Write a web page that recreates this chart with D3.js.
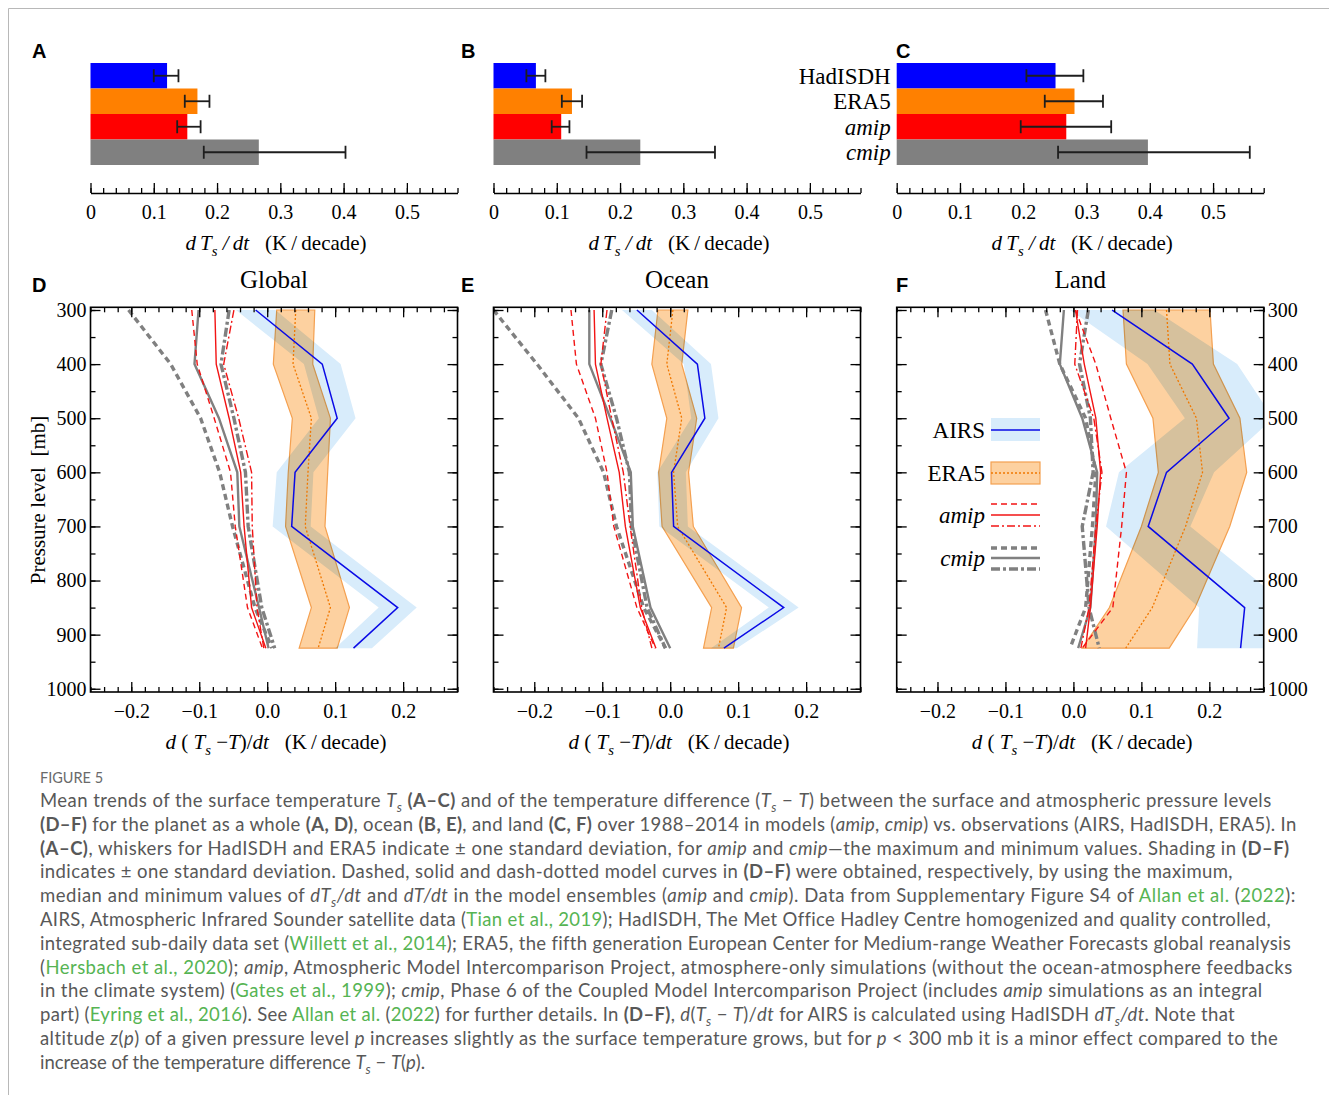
<!DOCTYPE html>
<html><head><meta charset="utf-8">
<script src="https://cdn.jsdelivr.net/npm/d3@7"></script>
<style>
body{margin:0;background:#fff;}
svg{display:block;}
text{white-space:pre;}
</style></head><body>
<svg id="chart" width="1329" height="1095"></svg>
<script>
// ---------------- DATA ----------------
const barCategories = ["HadISDH", "ERA5", "amip", "cmip"];
const barTicks = [0, 0.1, 0.2, 0.3, 0.4, 0.5];
const barGlobal   = [0.121, 0.169, 0.153, 0.266];
const barGlobalLo = [0.100, 0.149, 0.137, 0.179];
const barGlobalHi = [0.139, 0.188, 0.174, 0.403];
const barOcean    = [0.067, 0.124, 0.107, 0.232];
const barOceanLo  = [0.052, 0.108, 0.092, 0.147];
const barOceanHi  = [0.082, 0.140, 0.120, 0.350];
const barLand     = [0.251, 0.281, 0.268, 0.397];
const barLandLo   = [0.205, 0.234, 0.196, 0.255];
const barLandHi   = [0.295, 0.326, 0.339, 0.558];

const levels = [300, 400, 500, 600, 700, 850, 925];
const profTicksX = [-0.2, -0.1, 0.0, 0.1, 0.2];
const profTicksY = [300, 400, 500, 600, 700, 800, 900, 1000];
const panelTitles = ["Global", "Ocean", "Land"];

// Global (D)
const globalAirs    = [-0.017, 0.081, 0.103, 0.041, 0.036, 0.192, 0.127];
const globalAirsSd  = [0.029, 0.027, 0.027, 0.027, 0.028, 0.028, 0.027];
const globalEra5    = [0.042, 0.038, 0.065, 0.060, 0.056, 0.093, 0.075];
const globalEra5Sd  = [0.028, 0.029, 0.028, 0.029, 0.029, 0.028, 0.028];
const globalAmipMax = [-0.111, -0.103, -0.078, -0.054, -0.047, -0.029, -0.007];
const globalAmipMed = [-0.077, -0.075, -0.056, -0.039, -0.034, -0.023, -0.002];
const globalAmipMin = [-0.049, -0.064, -0.042, -0.023, -0.022, -0.015, -0.005];
const globalCmipMax = [-0.204, -0.142, -0.098, -0.070, -0.051, -0.018, 0.007];
const globalCmipMed = [-0.101, -0.107, -0.071, -0.044, -0.041, -0.012, 0.002];
const globalCmipMin = [-0.056, -0.068, -0.049, -0.032, -0.028, -0.008, 0.011];

// Ocean (E)
const oceanAirs    = [-0.049, 0.040, 0.051, 0.002, 0.005, 0.167, 0.079];
const oceanAirsSd  = [0.022, 0.020, 0.020, 0.021, 0.021, 0.022, 0.019];
const oceanEra5    = [0.004, -0.005, 0.017, 0.005, 0.011, 0.083, 0.071];
const oceanEra5Sd  = [0.022, 0.022, 0.022, 0.022, 0.023, 0.022, 0.022];
const oceanAmipMax = [-0.146, -0.138, -0.110, -0.093, -0.083, -0.049, -0.022];
const oceanAmipMed = [-0.112, -0.110, -0.093, -0.075, -0.066, -0.044, -0.021];
const oceanAmipMin = [-0.093, -0.102, -0.086, -0.069, -0.059, -0.042, -0.027];
const oceanCmipMax = [-0.260, -0.196, -0.135, -0.098, -0.079, -0.039, -0.007];
const oceanCmipMed = [-0.119, -0.119, -0.088, -0.058, -0.055, -0.029, 0.000];
const oceanCmipMin = [-0.086, -0.102, -0.079, -0.060, -0.057, -0.034, -0.007];

// Land (F)
const landAirs    = [0.057, 0.175, 0.229, 0.137, 0.110, 0.252, 0.246];
const landAirsSd  = [0.062, 0.066, 0.065, 0.070, 0.062, 0.067, 0.064];
const landEra5    = [0.137, 0.142, 0.181, 0.190, 0.165, 0.116, 0.077];
const landEra5Sd  = [0.064, 0.064, 0.064, 0.065, 0.065, 0.063, 0.064];
const landAmipMax = [0.003, 0.033, 0.055, 0.078, 0.071, 0.058, 0.013];
const landAmipMed = [0.003, 0.016, 0.033, 0.040, 0.035, 0.025, 0.018];
const landAmipMin = [0.006, 0.002, 0.030, 0.042, 0.033, 0.023, 0.011];
const landCmipMax = [-0.041, -0.020, 0.018, 0.033, 0.028, 0.018, -0.005];
const landCmipMed = [-0.014, -0.020, 0.013, 0.035, 0.033, 0.025, 0.007];
const landCmipMin = [0.022, 0.009, 0.025, 0.029, 0.013, 0.023, 0.038];

// ---------------- STYLE ----------------
const SERIF = "'Liberation Serif','Times New Roman',serif";
const SANS = "'Liberation Sans',Arial,sans-serif";
const CAPFONT = "Lato,'Open Sans',sans-serif";
const barColors = ["#0000ff", "#ff8000", "#ff0000", "#808080"];
const RED = "#f21414", GRAY = "#808080", BLUE = "#0a0ae6";
const lineStyles = {
  amipMax: {stroke: RED, w: 1.4, dash: "6,4"},
  amipMed: {stroke: RED, w: 1.4, dash: null},
  amipMin: {stroke: RED, w: 1.4, dash: "8,3,2,3"},
  cmipMax: {stroke: GRAY, w: 3.4, dash: "6,4"},
  cmipMed: {stroke: GRAY, w: 2.4, dash: null},
  cmipMin: {stroke: GRAY, w: 3.4, dash: "9,3,3,3"}
};

const svg = d3.select("#chart");
svg.append("rect").attr("width", 1329).attr("height", 1095).attr("fill", "#fff");
svg.append("path").attr("d", "M8.5,1095 V8.5 H1329").attr("fill", "none")
  .attr("stroke", "#b8b8b8").attr("stroke-width", 1);

function rich(textSel, segs, fs) {
  let shifted = false;
  segs.forEach(([t, st]) => {
    const ts = textSel.append("tspan").text(t);
    if (st.includes("i") || st === "s") ts.attr("font-style", "italic");
    if (st.includes("b")) ts.attr("font-weight", "bold");
    if (st.includes("g")) ts.attr("fill", "#56b453");
    if (st === "s") {
      ts.attr("font-size", fs * 0.7).attr("dy", fs * 0.28);
      shifted = true;
    } else if (shifted) {
      ts.attr("dy", -fs * 0.28);
      shifted = false;
    }
  });
}

const panelX = [90.5, 493.5, 896.7], panelW = 367;

// ---------------- BAR PANELS (A-C) ----------------
const barSets = [
  [barGlobal, barGlobalLo, barGlobalHi],
  [barOcean, barOceanLo, barOceanHi],
  [barLand, barLandLo, barLandHi]
];
const letterX = [32, 461, 896];
["A", "B", "C"].forEach((L, i) => svg.append("text").attr("x", letterX[i]).attr("y", 58)
  .attr("font-family", SANS).attr("font-weight", "bold").attr("font-size", 20).text(L));

barSets.forEach((set, pi) => {
  const [vals, lo, hi] = set;
  const g = svg.append("g").attr("transform", `translate(${panelX[pi]},0)`);
  const x = d3.scaleLinear().domain([0, 0.58]).range([0, panelW]);
  const y = d3.scaleBand().domain(barCategories).range([63, 165]).padding(0);
  g.selectAll("rect.bar").data(barCategories).join("rect").attr("class", "bar")
    .attr("x", x(0)).attr("y", d => y(d))
    .attr("width", (d, i) => x(vals[i]) - x(0)).attr("height", y.bandwidth())
    .attr("fill", (d, i) => barColors[i]);
  const eb = g.selectAll("g.eb").data(barCategories).join("g").attr("class", "eb")
    .attr("stroke", "#1e1e1e").attr("stroke-width", 1.8);
  eb.append("line").attr("x1", (d, i) => x(lo[i])).attr("x2", (d, i) => x(hi[i]))
    .attr("y1", d => y(d) + y.bandwidth() / 2).attr("y2", d => y(d) + y.bandwidth() / 2);
  eb.append("line").attr("x1", (d, i) => x(lo[i])).attr("x2", (d, i) => x(lo[i]))
    .attr("y1", d => y(d) + y.bandwidth() / 2 - 6.5).attr("y2", d => y(d) + y.bandwidth() / 2 + 6.5);
  eb.append("line").attr("x1", (d, i) => x(hi[i])).attr("x2", (d, i) => x(hi[i]))
    .attr("y1", d => y(d) + y.bandwidth() / 2 - 6.5).attr("y2", d => y(d) + y.bandwidth() / 2 + 6.5);

  const minor = d3.range(0, 30).map(k => k * 0.02);
  const axm = g.append("g").attr("transform", "translate(0,193)")
    .call(d3.axisBottom(x).tickValues(minor).tickSize(-5).tickSizeOuter(0).tickFormat(""));
  const axM = g.append("g").attr("transform", "translate(0,193)")
    .call(d3.axisBottom(x).tickValues(barTicks).tickSize(-10).tickSizeOuter(0).tickPadding(12)
      .tickFormat(d => d === 0 ? "0" : d3.format(".1f")(d)));
  axM.select(".domain").remove();
  [axm, axM].forEach(a => {
    a.selectAll("line").attr("stroke", "#000").attr("stroke-width", 1.3);
    a.selectAll(".domain").attr("stroke", "#000").attr("stroke-width", 1.6);
  });
  axM.selectAll("text").attr("font-family", SERIF).attr("font-size", 20).attr("fill", "#000");

  const lab = g.append("text").attr("x", panelW / 2 + 2).attr("y", 250).attr("text-anchor", "middle")
    .attr("font-family", SERIF).attr("font-size", 21);
  rich(lab, [["d\u2009", "i"], ["T", "i"], ["s", "s"], [" /\u2009", "i"], ["dt", "i"], ["   (K\u2009/\u2009decade)", "n"]], 21);

  if (pi === 2) {
    g.selectAll("text.cat").data(barCategories).join("text").attr("class", "cat")
      .attr("x", -6).attr("y", d => y(d) + y.bandwidth() / 2).attr("dy", "0.35em")
      .attr("text-anchor", "end").attr("font-family", SERIF).attr("font-size", 23)
      .attr("font-style", (d, i) => i >= 2 ? "italic" : "normal").text(d => d);
  }
});

// ---------------- PROFILE PANELS (D-F) ----------------
const profSets = [
  {airs: globalAirs, airsSd: globalAirsSd, era5: globalEra5, era5Sd: globalEra5Sd,
   amipMax: globalAmipMax, amipMed: globalAmipMed, amipMin: globalAmipMin,
   cmipMax: globalCmipMax, cmipMed: globalCmipMed, cmipMin: globalCmipMin},
  {airs: oceanAirs, airsSd: oceanAirsSd, era5: oceanEra5, era5Sd: oceanEra5Sd,
   amipMax: oceanAmipMax, amipMed: oceanAmipMed, amipMin: oceanAmipMin,
   cmipMax: oceanCmipMax, cmipMed: oceanCmipMed, cmipMin: oceanCmipMin},
  {airs: landAirs, airsSd: landAirsSd, era5: landEra5, era5Sd: landEra5Sd,
   amipMax: landAmipMax, amipMed: landAmipMed, amipMin: landAmipMin,
   cmipMax: landCmipMax, cmipMed: landCmipMed, cmipMin: landCmipMin}
];
["D", "E", "F"].forEach((L, i) => svg.append("text").attr("x", letterX[i]).attr("y", 292)
  .attr("font-family", SANS).attr("font-weight", "bold").attr("font-size", 20).text(L));

const yTop = 307.3, yBot = 692;
const yP = d3.scaleLinear().domain([295, 1006]).range([yTop, yBot]);
const xP = d3.scaleLinear().domain([-0.26, 0.28]).range([0, panelW]);

profSets.forEach((P, pi) => {
  const g = svg.append("g").attr("transform", `translate(${panelX[pi]},0)`);
  const cid = "clip" + pi;
  g.append("clipPath").attr("id", cid).append("rect")
    .attr("x", 0).attr("y", yTop).attr("width", panelW).attr("height", yBot - yTop);
  const pg = g.append("g").attr("clip-path", `url(#${cid})`);

  const band = (v, sd) => d3.area()
    .x0((d, i) => xP(v[i] - sd[i])).x1((d, i) => xP(v[i] + sd[i])).y(d => yP(d));
  const line = v => d3.line().x((d, i) => xP(v[i])).y(d => yP(d));

  pg.append("path").datum(levels).attr("d", band(P.airs, P.airsSd)).attr("fill", "#d8ecfb");
  pg.append("path").datum(levels).attr("d", band(P.era5, P.era5Sd)).attr("fill", "#fdd1a0")
    .attr("stroke", "#f4a050").attr("stroke-width", 1.2).style("mix-blend-mode", "multiply");

  ["cmipMax", "cmipMed", "cmipMin", "amipMax", "amipMed", "amipMin"].forEach(k => {
    const s = lineStyles[k];
    pg.append("path").datum(levels).attr("d", line(P[k])).attr("fill", "none")
      .attr("stroke", s.stroke).attr("stroke-width", s.w).attr("stroke-dasharray", s.dash);
  });
  pg.append("path").datum(levels).attr("d", line(P.era5)).attr("fill", "none")
    .attr("stroke", "#f07800").attr("stroke-width", 1.3).attr("stroke-dasharray", "2,2");
  pg.append("path").datum(levels).attr("d", line(P.airs)).attr("fill", "none")
    .attr("stroke", BLUE).attr("stroke-width", 1.5);

  // frame
  g.append("rect").attr("x", 0).attr("y", yTop).attr("width", panelW).attr("height", yBot - yTop)
    .attr("fill", "none").attr("stroke", "#000").attr("stroke-width", 1.6);

  const minorX = d3.range(-13, 15).map(k => k * 0.02);
  const minorY = d3.range(300, 1001, 50);
  const axes = [];
  axes.push(g.append("g").attr("transform", `translate(0,${yBot})`)
    .call(d3.axisBottom(xP).tickValues(minorX).tickSize(-5).tickSizeOuter(0).tickFormat("")));
  axes.push(g.append("g").attr("transform", `translate(0,${yBot})`)
    .call(d3.axisBottom(xP).tickValues(profTicksX).tickSize(-10).tickSizeOuter(0).tickPadding(12)
      .tickFormat(d3.format(".1f"))));
  axes.push(g.append("g").attr("transform", `translate(0,${yTop})`)
    .call(d3.axisTop(xP).tickValues(minorX).tickSize(-5).tickSizeOuter(0).tickFormat("")));
  axes.push(g.append("g").attr("transform", `translate(0,${yTop})`)
    .call(d3.axisTop(xP).tickValues(profTicksX).tickSize(-10).tickSizeOuter(0).tickFormat("")));
  axes.push(g.append("g").call(d3.axisLeft(yP).tickValues(minorY).tickSize(-5).tickSizeOuter(0).tickFormat("")));
  axes.push(g.append("g").call(d3.axisLeft(yP).tickValues(profTicksY).tickSize(-10).tickSizeOuter(0)
    .tickPadding(4).tickFormat(pi === 0 ? d3.format("d") : "")));
  axes.push(g.append("g").attr("transform", `translate(${panelW},0)`)
    .call(d3.axisRight(yP).tickValues(minorY).tickSize(-5).tickSizeOuter(0).tickFormat("")));
  axes.push(g.append("g").attr("transform", `translate(${panelW},0)`)
    .call(d3.axisRight(yP).tickValues(profTicksY).tickSize(-10).tickSizeOuter(0)
      .tickPadding(4).tickFormat(pi === 2 ? d3.format("d") : "")));
  axes.forEach(a => {
    a.select(".domain").remove();
    a.selectAll("line").attr("stroke", "#000").attr("stroke-width", 1.3);
    a.selectAll("text").attr("font-family", SERIF).attr("font-size", 20).attr("fill", "#000");
  });

  g.append("text").attr("x", panelW / 2).attr("y", 288).attr("text-anchor", "middle")
    .attr("font-family", SERIF).attr("font-size", 25).text(panelTitles[pi]);

  const lab = g.append("text").attr("x", panelW / 2 + 2).attr("y", 749).attr("text-anchor", "middle")
    .attr("font-family", SERIF).attr("font-size", 21);
  rich(lab, [["d", "i"], [" ( ", "n"], ["T", "i"], ["s", "s"], [" \u2212", "n"], ["T", "i"], [")/", "n"],
             ["dt", "i"], ["   (K\u2009/\u2009decade)", "n"]], 21);
});

// y label
svg.append("text").attr("transform", "translate(45,500) rotate(-90)").attr("text-anchor", "middle")
  .attr("font-family", SERIF).attr("font-size", 21).text("Pressure level  [mb]");

// ---------------- LEGEND (in F) ----------------
const leg = svg.append("g").attr("font-family", SERIF).attr("font-size", 23);
const lx0 = 991, lx1 = 1040, ltx = 985;
leg.append("rect").attr("x", lx0).attr("y", 418).attr("width", lx1 - lx0).attr("height", 23).attr("fill", "#d8ecfb");
leg.append("line").attr("x1", lx0).attr("x2", lx1).attr("y1", 430).attr("y2", 430).attr("stroke", BLUE).attr("stroke-width", 1.5);
leg.append("text").attr("x", ltx).attr("y", 430).attr("dy", "0.35em").attr("text-anchor", "end").text("AIRS");
leg.append("rect").attr("x", lx0).attr("y", 462).attr("width", lx1 - lx0).attr("height", 22)
  .attr("fill", "#fdd1a0").attr("stroke", "#f4a050").attr("stroke-width", 1.2);
leg.append("line").attr("x1", lx0).attr("x2", lx1).attr("y1", 473).attr("y2", 473)
  .attr("stroke", "#f07800").attr("stroke-width", 1.3).attr("stroke-dasharray", "2,2");
leg.append("text").attr("x", ltx).attr("y", 473).attr("dy", "0.35em").attr("text-anchor", "end").text("ERA5");
[["amipMax", 504], ["amipMed", 515], ["amipMin", 526], ["cmipMax", 548], ["cmipMed", 558], ["cmipMin", 569]]
  .forEach(([k, yy]) => {
    const s = lineStyles[k];
    leg.append("line").attr("x1", lx0).attr("x2", lx1).attr("y1", yy).attr("y2", yy)
      .attr("stroke", s.stroke).attr("stroke-width", s.w).attr("stroke-dasharray", s.dash);
  });
leg.append("text").attr("x", ltx).attr("y", 515).attr("dy", "0.35em").attr("text-anchor", "end")
  .attr("font-style", "italic").text("amip");
leg.append("text").attr("x", ltx).attr("y", 558).attr("dy", "0.35em").attr("text-anchor", "end")
  .attr("font-style", "italic").text("cmip");

// ---------------- CAPTION ----------------
svg.append("text").attr("x", 40).attr("y", 783).attr("font-family", CAPFONT)
  .attr("font-size", 14.5).attr("fill", "#6a6a6a").text("FIGURE 5");

const captionLines = [
  [["Mean trends of the surface temperature ", "n"], ["T", "i"], ["s", "s"], [" ", "n"], ["(A\u2013C)", "b"],
   [" and of the temperature difference (", "n"], ["T", "i"], ["s", "s"], [" \u2212 ", "n"], ["T", "i"],
   [") between the surface and atmospheric pressure levels", "n"]],
  [["(D\u2013F)", "b"], [" for the planet as a whole ", "n"], ["(A, D)", "b"], [", ocean ", "n"], ["(B, E)", "b"],
   [", and land ", "n"], ["(C, F)", "b"], [" over 1988\u20132014 in models (", "n"], ["amip", "i"], [", ", "n"],
   ["cmip", "i"], [") vs. observations (AIRS, HadISDH, ERA5). In", "n"]],
  [["(A\u2013C)", "b"], [", whiskers for HadISDH and ERA5 indicate \u00b1 one standard deviation, for ", "n"],
   ["amip", "i"], [" and ", "n"], ["cmip", "i"], ["\u2014the maximum and minimum values. Shading in ", "n"], ["(D\u2013F)", "b"]],
  [["indicates \u00b1 one standard deviation. Dashed, solid and dash-dotted model curves in ", "n"], ["(D\u2013F)", "b"],
   [" were obtained, respectively, by using the maximum,", "n"]],
  [["median and minimum values of ", "n"], ["dT", "i"], ["s", "s"], ["/dt", "i"], [" and ", "n"], ["dT/dt", "i"],
   [" in the model ensembles (", "n"], ["amip", "i"], [" and ", "n"], ["cmip", "i"],
   ["). Data from Supplementary Figure S4 of ", "n"], ["Allan et al.", "g"], [" (", "n"], ["2022", "g"], ["):", "n"]],
  [["AIRS, Atmospheric Infrared Sounder satellite data (", "n"], ["Tian et al., 2019", "g"],
   ["); HadISDH, The Met Office Hadley Centre homogenized and quality controlled,", "n"]],
  [["integrated sub-daily data set (", "n"], ["Willett et al., 2014", "g"],
   ["); ERA5, the fifth generation European Center for Medium-range Weather Forecasts global reanalysis", "n"]],
  [["(", "n"], ["Hersbach et al., 2020", "g"], ["); ", "n"], ["amip", "i"],
   [", Atmospheric Model Intercomparison Project, atmosphere-only simulations (without the ocean-atmosphere feedbacks", "n"]],
  [["in the climate system) (", "n"], ["Gates et al., 1999", "g"], ["); ", "n"], ["cmip", "i"],
   [", Phase 6 of the Coupled Model Intercomparison Project (includes ", "n"], ["amip", "i"],
   [" simulations as an integral", "n"]],
  [["part) (", "n"], ["Eyring et al., 2016", "g"], ["). See ", "n"], ["Allan et al.", "g"], [" (", "n"], ["2022", "g"],
   [") for further details. In ", "n"], ["(D\u2013F)", "b"], [", ", "n"], ["d", "i"], ["(", "n"], ["T", "i"], ["s", "s"],
   [" \u2212 ", "n"], ["T", "i"], [")/", "n"], ["dt", "i"], [" for AIRS is calculated using HadISDH ", "n"], ["dT", "i"],
   ["s", "s"], ["/dt", "i"], [". Note that", "n"]],
  [["altitude ", "n"], ["z", "i"], ["(", "n"], ["p", "i"], [") of a given pressure level ", "n"], ["p", "i"],
   [" increases slightly as the surface temperature grows, but for ", "n"], ["p", "i"],
   [" < 300 mb it is a minor effect compared to the", "n"]],
  [["increase of the temperature difference ", "n"], ["T", "i"], ["s", "s"], [" \u2212 ", "n"], ["T", "i"], ["(", "n"],
   ["p", "i"], [").", "n"]]
];
const captionEnds = [1271, 1297, 1290, 1233, 1296, 1270, 1290, 1293, 1263, 1235, 1278, null];
const capFs = 18.5;
captionLines.forEach((segs, li) => {
  const t = svg.append("text").attr("x", 40).attr("y", 807 + li * 23.8)
    .attr("font-family", CAPFONT).attr("font-size", capFs).attr("fill", "#585858");
  rich(t, segs, capFs);
  if (captionEnds[li]) {
    const w = t.node().getComputedTextLength();
    const n = segs.reduce((a, s) => a + s[0].length, 0);
    const ls = (captionEnds[li] - 40 - w) / n;
    t.style("letter-spacing", ls + "px");
  }
});
</script>
</body></html>
